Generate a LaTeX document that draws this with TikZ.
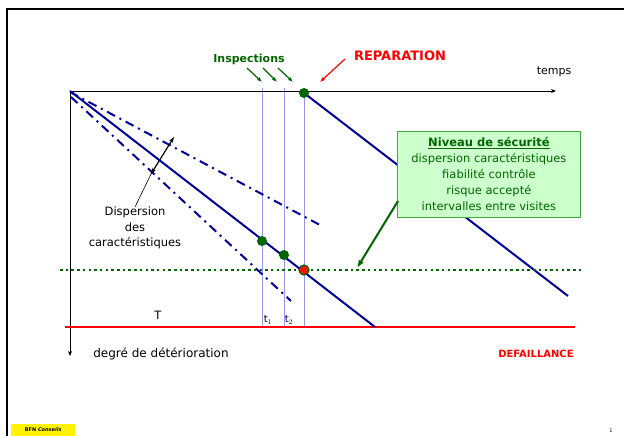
\documentclass[tikz,border=0pt]{standalone}
\usepackage{fontspec}
\setmainfont{DejaVu Sans}
\usetikzlibrary{arrows.meta}
\definecolor{dblue}{RGB}{0,0,153}
\definecolor{dgreen}{RGB}{0,102,0}
\definecolor{lblue}{RGB}{150,150,235}
\definecolor{boxgreen}{RGB}{204,255,204}
\definecolor{boxedge}{RGB}{60,170,60}
\tikzset{
  bline/.style={dblue, line width=2pt},
  dashdot/.style={dblue, line width=2pt, dash pattern=on 9pt off 5pt on 2pt off 5pt},
  vline/.style={lblue, line width=0.7pt},
  gdot/.style={circle, fill=dgreen, inner sep=0pt, minimum size=10pt},
  lbl/.style={inner sep=0pt, font=\fontsize{11.5}{13}\selectfont},
  garrow/.style={dgreen, line width=1.2pt, -{Latex[length=5pt,width=4pt]}},
}
\begin{document}
\begin{tikzpicture}[x=1pt,y=-1pt]
\useasboundingbox (0,0) rectangle (624,436);
% slide frame
\draw[black, line width=2pt] (7,436) -- (7,9) -- (624,9);

% coordinates
\coordinate (O) at (70,91);
\coordinate (Xend) at (556,91);
\coordinate (Yend) at (70,356);
\coordinate (Mend) at (375,327);
\coordinate (Ustart) at (70,92);
\coordinate (Uend) at (320,225);
\coordinate (Lstart) at (71,97);
\coordinate (Lend) at (291,301);
\coordinate (Rend) at (568,296);

% vertical inspection lines
\foreach \x/\n in {262/a,284/b,304/c}{
  \coordinate (vt\n) at (\x,88);
  \coordinate (vb\n) at (\x,327);
  \draw[vline] (vt\n) -- (vb\n);
}

% axes
\draw[black, line width=0.8pt, -{Stealth[length=5pt,width=4pt]}] (O) -- (Xend);
\draw[black, line width=0.8pt, -{Stealth[length=5pt,width=4pt]}] (O) -- (Yend);

% failure line
\coordinate (Fl) at (65,327);
\coordinate (Fr) at (575,327);
\draw[red, line width=2.2pt] (Fl) -- (Fr);

% dispersion lines
\draw[dashdot] (Ustart) -- (Uend);
\draw[dashdot] (Lstart) -- (Lend);
\draw[bline] (O) -- (Mend);

% repair line
\coordinate (Rstart) at (304,93);
\draw[bline] (Rstart) -- (Rend);

% safety level dotted line
\coordinate (Gl) at (60,270);
\coordinate (Gr) at (582,270);
\draw[dgreen, line width=2.4pt, dash pattern=on 2.5pt off 3.2pt] (Gl) -- (Gr);

% dots
\node[gdot] (d1) at (262,241) {};
\node[gdot] (d2) at (284,255) {};
\node[gdot] (d3) at (304,93) {};
\node[circle, fill=red!85!orange, draw=dgreen, line width=1.2pt, inner sep=0pt, minimum size=10pt] (d4) at (304,270) {};

% dispersion arrow and label
\coordinate (Aa) at (151,174);
\coordinate (Ab) at (174,137);
\draw[black, line width=1.2pt, {Stealth[length=6pt,width=4pt]}-{Stealth[length=6pt,width=4pt]}] (Aa) -- (Ab);
\node[lbl, align=center, font=\fontsize{11.5}{15.5}\selectfont, anchor=north] (disp) at (135,207) {Dispersion\\des\\caractéristiques};
\coordinate (Ap) at (153,170);
\draw[black, line width=0.6pt] (disp.north) -- (Ap);

% labels
\node[lbl] (T) at (158,315) {T};
\node[lbl, font=\fontsize{10}{11}\selectfont] (t1) at (268,320) {t$_1$};
\node[lbl, font=\fontsize{10}{11}\selectfont] (t2) at (289,320) {t$_2$};
\node[lbl, font=\fontsize{12}{13}\selectfont] (deg) at (161,354) {degré de détérioration};
\node[lbl, red, font=\bfseries\fontsize{10}{12}\selectfont] (def) at (536,354) {DEFAILLANCE};
\node[lbl, font=\fontsize{11}{13}\selectfont] (temps) at (554,72) {temps};

% inspections
\node[lbl, dgreen, font=\bfseries\fontsize{11}{13}\selectfont] (insp) at (249,59) {Inspections};
\coordinate (i1s) at (247,68); \coordinate (i1e) at (262,82);
\coordinate (i2s) at (263,68); \coordinate (i2e) at (277,82);
\coordinate (i3s) at (278,68); \coordinate (i3e) at (293,82);
\draw[garrow] (i1s) -- (i1e);
\draw[garrow] (i2s) -- (i2e);
\draw[garrow] (i3s) -- (i3e);

% reparation
\node[lbl, red, font=\bfseries\fontsize{13}{15}\selectfont] (rep) at (400,56) {REPARATION};
\coordinate (r1s) at (345,59); \coordinate (r1e) at (320,82);
\draw[red, line width=1.2pt, -{Latex[length=5pt,width=4pt]}] (r1s) -- (r1e);

% safety box
\node[draw=boxedge, fill=boxgreen, line width=0.8pt, minimum width=183pt, minimum height=86pt, anchor=north west, inner sep=0pt] (box) at (397,131) {};
\node[dgreen, align=center, font=\fontsize{11.5}{16}\selectfont, inner sep=0pt] (boxtxt) at (box.center) {\textbf{\underline{Niveau de sécurité}}\\dispersion caractéristiques\\fiabilité contrôle\\risque accepté\\intervalles entre visites};
\coordinate (ga) at (398,201);
\coordinate (gb) at (357,268);
\draw[dgreen, line width=2pt, -{Latex[length=8pt,width=6pt]}] (ga) -- (gb);

% footer
\node[fill=yellow, minimum width=64pt, minimum height=12pt, inner sep=0pt, anchor=south west] (bfn) at (11,436) {};
\node[font=\bfseries\fontsize{5}{6}\selectfont, inner sep=0pt] (bfntxt) at (bfn.center) {BFN \textit{Conseils}};
\node[font=\fontsize{5}{6}\selectfont, inner sep=0pt] (pg) at (611,431) {1};
\end{tikzpicture}
\end{document}
